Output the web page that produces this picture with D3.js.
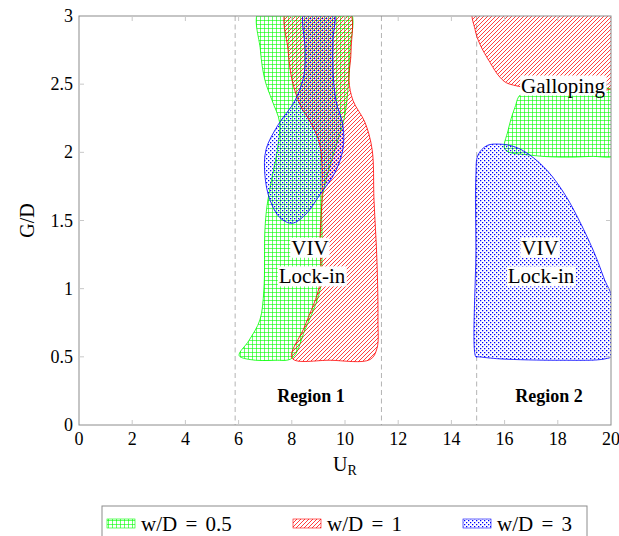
<!DOCTYPE html>
<html><head><meta charset="utf-8">
<script src="https://cdn.jsdelivr.net/npm/d3@7"></script>
<style>body{margin:0;background:#fff}svg{display:block}text{font-family:"Liberation Serif","Times New Roman",serif;fill:#000}</style>
</head><body><svg id="c" width="619" height="536"></svg>
<script>
// ---- data (U_R, G/D) ----
const xTicks = [0,2,4,6,8,10,12,14,16,18,20];
const yTicks = [0,0.5,1,1.5,2,2.5,3];
const yTickLabels = ["0","0.5","1","1.5","2","2.5","3"];
const regionBounds = [5.87, 11.37, 14.95];
const seriesNames = ["w/D = 0.5","w/D = 1","w/D = 3"];
// region 1 boundaries
const r1_wd05 = [[6.80,3.05],[6.82,2.75],[6.99,2.53],[7.26,2.38],[7.54,2.22],[7.46,2.02],[7.24,1.80],[7.07,1.61],[6.99,1.43],[6.95,0.99],[6.80,0.77],[6.39,0.62],[6.02,0.51],[6.43,0.48],[7.37,0.475],[8.01,0.49],[8.50,0.70],[9.06,0.99],[9.14,1.28],[9.14,1.65],[9.29,1.80],[9.62,2.02],[9.96,2.24],[10.11,2.46],[10.19,2.75],[10.15,3.05]];
const r1_wd1 = [[7.82,3.05],[7.86,2.75],[8.01,2.53],[8.31,2.35],[8.76,2.20],[9.06,2.05],[9.14,1.72],[9.06,1.36],[9.06,1.04],[8.50,0.73],[8.01,0.49],[9.44,0.475],[10.94,0.48],[11.20,0.56],[11.24,0.77],[11.20,1.21],[11.09,1.65],[11.02,2.02],[10.75,2.22],[10.30,2.38],[10.15,2.53],[10.23,2.75],[10.11,3.05]];
const r1_wd3 = [[8.50,3.05],[8.50,2.75],[8.46,2.57],[8.12,2.38],[7.48,2.20],[7.03,2.02],[6.99,1.83],[7.18,1.65],[7.56,1.52],[8.01,1.48],[8.50,1.54],[9.06,1.69],[9.62,1.85],[9.92,2.02],[9.92,2.20],[9.66,2.38],[9.55,2.60],[9.55,2.82],[9.55,3.05]];
// region 2 boundaries
const r2_wd1 = [[14.85,3.05],[14.89,2.90],[15.08,2.79],[15.45,2.66],[15.83,2.55],[16.20,2.50],[20.3,2.50],[20.3,3.05]];
const r2_wd05 = [[16.65,2.43],[20.3,2.43],[20.3,1.99],[19.21,1.97],[18.08,1.965],[16.95,1.98],[16.02,2.02],[16.13,2.16],[16.39,2.33]];
const r2_wd3 = [[14.92,0.50],[14.92,1.28],[14.92,1.83],[15.00,1.98],[15.34,2.05],[15.83,2.06],[16.39,2.04],[16.95,1.98],[17.63,1.86],[18.27,1.69],[18.83,1.49],[19.40,1.25],[19.77,1.06],[20.05,0.93],[20.05,0.51],[19.77,0.485],[18.08,0.475],[15.83,0.485],[15.0,0.50]];
const labels = [
  {t:"VIV", x:8.68, y:1.30},{t:"Lock-in", x:8.76, y:1.09},
  {t:"VIV", x:17.33, y:1.30},{t:"Lock-in", x:17.37, y:1.09},
  {t:"Galloping", x:18.2, y:2.49}
];
const regionLabels = [{t:"Region 1", x:8.72, y:0.21},{t:"Region 2", x:17.67, y:0.21}];

// ---- layout ----
const FONT = "Liberation Serif, Times New Roman, serif";
const svg = d3.select("#c");
const L=79, R=611, T=16, B=425;
const x = d3.scaleLinear().domain([0,20]).range([L,R]);
const y = d3.scaleLinear().domain([0,3]).range([B,T]);
const cols = {g:"#00ff00", r:"#ff0000", b:"#0000ff"};
const defs = svg.append("defs");
defs.append("clipPath").attr("id","clip").append("rect").attr("x",L).attr("y",T).attr("width",R-L).attr("height",B-T);

// hatch generators (pixel-space decoration inside a box)
const S = 4;
function gridPath(x0,y0,x1,y1){
  let d="";
  for(let a=Math.floor(x0/S)*S+0.5;a<=x1;a+=S) d+=`M${a},${y0}V${y1}`;
  for(let b=Math.floor(y0/S)*S+0.5;b<=y1;b+=S) d+=`M${x0},${b}H${x1}`;
  return d;
}
function nePath(x0,y0,x1,y1){
  let d="";
  for(let c=Math.floor((x0+y0)/S)*S; c<=x1+y1; c+=S){
    d+=`M${c-y1},${y1}L${c-y0},${y0}`;
  }
  return d;
}
function dotPath(x0,y0,x1,y1){
  let d="";
  for(let b=Math.floor(y0/S)*S;b<=y1;b+=S)
    for(let a=Math.floor(x0/S)*S;a<=x1;a+=S){
      d+=`M${a},${b}h1.3v1.3h-1.3z M${a+2},${b+2}h1.3v1.3h-1.3z`;
    }
  return d;
}
const hatch = {
  g:(g,bx)=>g.append("path").attr("d",gridPath(...bx)).attr("stroke",cols.g).attr("stroke-width",0.6).attr("fill","none"),
  r:(g,bx)=>g.append("path").attr("d",nePath(...bx)).attr("stroke",cols.r).attr("stroke-width",0.75).attr("fill","none"),
  b:(g,bx)=>g.append("path").attr("d",dotPath(...bx)).attr("fill",cols.b)
};

// dashed region boundaries
svg.append("g").selectAll("line").data(regionBounds).join("line")
  .attr("x1",d=>x(d)).attr("x2",d=>x(d)).attr("y1",T).attr("y2",B)
  .attr("stroke","#b3b3b3").attr("stroke-width",1).attr("stroke-dasharray","5,3.5");

const line = d3.line().x(d=>x(d[0])).y(d=>y(d[1])).curve(d3.curveCatmullRomClosed.alpha(0.5));
const shapes = [
  {d:r1_wd05, k:"g"},{d:r2_wd05, k:"g"},
  {d:r1_wd1, k:"r"},{d:r2_wd1, k:"r"},
  {d:r1_wd3, k:"b"},{d:r2_wd3, k:"b"}
];
const gs = svg.append("g").attr("clip-path","url(#clip)");
shapes.forEach((s,i)=>{
  const dstr = line(s.d);
  defs.append("clipPath").attr("id","sh"+i).append("path").attr("d",dstr);
  const xs = s.d.map(p=>x(p[0])), ys = s.d.map(p=>y(p[1]));
  const bx = [Math.floor(d3.min(xs))-6, Math.floor(d3.min(ys))-6, Math.ceil(d3.max(xs))+6, Math.ceil(d3.max(ys))+6];
  const g = gs.append("g").attr("clip-path",`url(#sh${i})`);
  hatch[s.k](g,bx);
  gs.append("path").attr("d",dstr).attr("fill","none").attr("stroke",cols[s.k]).attr("stroke-width",0.8);
});

// labels with white boxes
const lg = svg.append("g");
labels.forEach(l=>{
  const t = lg.append("text").attr("x",x(l.x)).attr("y",y(l.y)).attr("text-anchor","middle")
    .attr("dominant-baseline","central").attr("font-family",FONT).attr("font-size",21).text(l.t);
  const bb = t.node().getBBox();
  lg.insert("rect","text").attr("x",bb.x-1).attr("y",bb.y+2).attr("width",bb.width+2).attr("height",bb.height-4).attr("fill","#fff");
});
svg.append("g").selectAll("text").data(regionLabels).join("text")
  .attr("x",d=>x(d.x)).attr("y",d=>y(d.y)).attr("text-anchor","middle").attr("dominant-baseline","central")
  .attr("font-family",FONT).attr("font-size",18).attr("font-weight","bold").text(d=>d.t);

// frame & ticks
svg.append("rect").attr("x",L).attr("y",T).attr("width",R-L).attr("height",B-T)
  .attr("fill","none").attr("stroke","#8c8c8c").attr("stroke-width",1);
const tk = svg.append("g").attr("stroke","#c8c8c8").attr("stroke-width",1);
xTicks.slice(1,-1).forEach(v=>{
  tk.append("line").attr("x1",x(v)).attr("x2",x(v)).attr("y1",B).attr("y2",B-5);
  tk.append("line").attr("x1",x(v)).attr("x2",x(v)).attr("y1",T).attr("y2",T+5);
});
yTicks.slice(1,-1).forEach(v=>{
  tk.append("line").attr("x1",L).attr("x2",L+5).attr("y1",y(v)).attr("y2",y(v));
  tk.append("line").attr("x1",R).attr("x2",R-5).attr("y1",y(v)).attr("y2",y(v));
});
svg.append("g").selectAll("text").data(xTicks).join("text")
  .attr("x",d=>x(d)).attr("y",B+20).attr("text-anchor","middle").attr("font-family",FONT).attr("font-size",18).text(d=>d);
svg.append("g").selectAll("text").data(yTicks).join("text")
  .attr("x",L-6).attr("y",d=>y(d)+6).attr("text-anchor","end").attr("font-family",FONT).attr("font-size",18).text((d,i)=>yTickLabels[i]);
// axis titles
const xt = svg.append("text").attr("x",(L+R)/2).attr("y",471).attr("text-anchor","middle").attr("font-family",FONT).attr("font-size",20);
xt.append("tspan").text("U");
xt.append("tspan").attr("font-size",14).attr("dy",4).text("R");
svg.append("text").attr("transform",`translate(34,${(T+B)/2}) rotate(-90)`).attr("text-anchor","middle").attr("font-family",FONT).attr("font-size",20).text("G/D");

// legend
const leg = svg.append("g");
leg.append("rect").attr("x",102).attr("y",506).attr("width",485).attr("height",40).attr("fill","#fff").attr("stroke","#8c8c8c");
const legX = [107, 293, 463];
seriesNames.forEach((n,i)=>{
  const k = ["g","r","b"][i];
  const bx=[legX[i],519,legX[i]+28,528];
  defs.append("clipPath").attr("id","lg"+i).append("rect").attr("x",bx[0]).attr("y",bx[1]).attr("width",28).attr("height",9);
  const g = leg.append("g").attr("clip-path",`url(#lg${i})`);
  hatch[k](g,bx);
  leg.append("rect").attr("x",bx[0]).attr("y",bx[1]).attr("width",28).attr("height",9).attr("fill","none").attr("stroke",cols[k]).attr("stroke-width",0.6);
  leg.append("text").attr("x",legX[i]+34).attr("y",531).attr("font-family",FONT).attr("font-size",21).attr("word-spacing",3).text(n);
});
</script></body></html>
